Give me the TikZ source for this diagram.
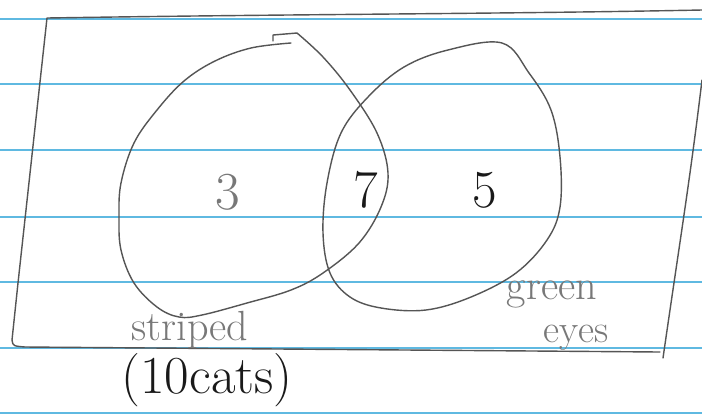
\documentclass[tikz,border=0pt]{standalone}
\usepackage{tikz}
\usetikzlibrary{positioning}
\definecolor{ruleblue}{RGB}{95,185,225}
\definecolor{pencil}{RGB}{85,85,85}
\definecolor{faint}{RGB}{120,120,120}
\definecolor{ink}{RGB}{25,25,25}
\begin{document}
\begin{tikzpicture}[x=0.025cm, y=-0.025cm,
    ruled/.style={ruleblue, line width=1.1pt},
    pencilline/.style={pencil, line width=1pt, line cap=round, line join=round},
    count/.style={font=\fontsize{38}{40}\selectfont, inner sep=0pt},
    hand/.style={font=\fontsize{#1}{#1}\selectfont, inner sep=0pt}]
          \useasboundingbox (0,0) rectangle (702,416);
          \fill[white] (0,0) rectangle (702,416);

          % Paper lines
          \foreach \y in {19,84,150,217,282,348,413} {
            \draw[ruled] (0,\y) -- (702,\y);
          }

          % Box
          \draw[pencilline] (702,10) .. controls (500,14) and (300,14) .. (47,18)
            -- (18,283) -- (12,340) .. controls (13,346) .. (25,347) -- (660,352);
          \draw[pencilline] (702,80) .. controls (690,180) and (680,240) .. (663,358);

          % Striped
          \draw[pencilline] plot[smooth, tension=0.6] coordinates {
            (291,43) (251,48) (215,61) (184,81) (157,110) (134,143) (121,183)
            (119,217) (121,250) (134,283) (157,307) (179,317) (202,315) (247,303)
            (291,290) (323,273) (359,243) (381,207) (388,173) (377,133) (350,90)
            (323,57) (297,33)} -- (273,35) -- (273,41);

          % Green eyes
          \draw[pencilline] plot[smooth cycle, tension=0.6] coordinates {
            (502,43) (448,50) (404,67) (368,97) (341,133) (327,183) (323,233)
            (330,273) (350,297) (381,308) (426,310) (471,297) (516,273) (547,240)
            (560,207) (560,157) (551,110) (529,73)};

          % Counts
          \node[count, text=faint] (onlystriped) at (228,192) {3};
          \node[count, text=ink] (both) at (366,190) {7};
          \node[count, text=ink] (onlygreen) at (485,190) {5};

          % Set names
          \node[hand=30, text=faint] (striped) at (190,330) {striped};
          \node[hand=38, text=ink] (cats) at (207,380) {(10cats)};
          \node[hand=30, text=faint] (green) at (552,294) {green};
          \node[hand=28, text=faint] (eyes) at (576,338) {eyes};
        \end{tikzpicture}
\end{document}
